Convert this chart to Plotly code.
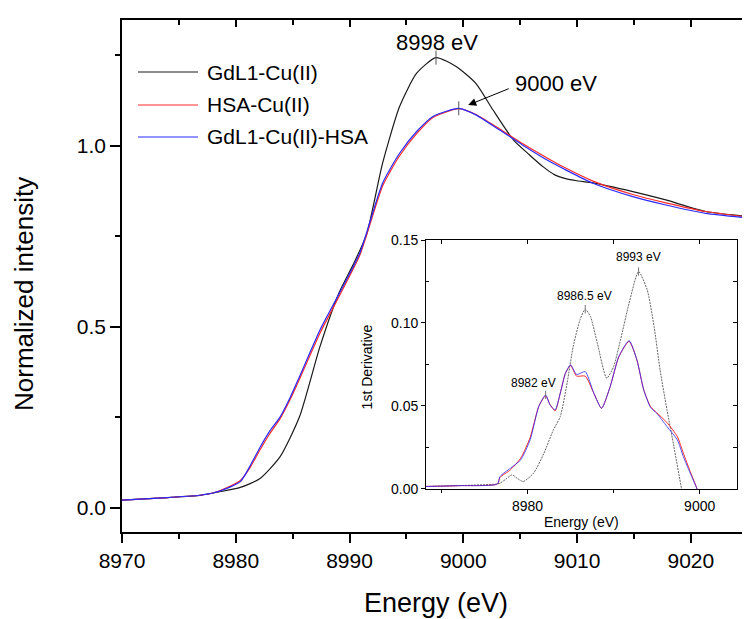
import plotly.graph_objects as go

# ---------------- data ----------------
series_names = ["GdL1-Cu(II)", "HSA-Cu(II)", "GdL1-Cu(II)-HSA"]
series_colors = ["#1a1a1a", "#ff2a2a", "#2a2aff"]

# main XANES spectra
energy_black = [8970, 8974, 8977, 8978.6, 8980.4, 8982.1, 8983.9, 8985.6, 8987.4, 8989.1,
                8990.3, 8991.5, 8992.9, 8994.4, 8995.9, 8997.6, 8999.4, 9001.1, 9002.6, 9004.4,
                9005.8, 9007.0, 9008.0, 9009.0, 9010.0, 9011.4, 9014.9, 9017.8, 9021.3, 9025.2]
norm_black = [0.021, 0.028, 0.035, 0.044, 0.056, 0.080, 0.141, 0.251, 0.445, 0.595,
              0.670, 0.755, 0.951, 1.108, 1.200, 1.243, 1.218, 1.172, 1.099, 1.016,
              0.975, 0.942, 0.920, 0.909, 0.903, 0.897, 0.873, 0.850, 0.818, 0.804]

energy_hsa = [8970, 8974, 8977, 8978.6, 8980.4, 8981.2, 8982.1, 8983.0, 8983.9, 8984.8,
              8985.6, 8987.4, 8989.1, 8990.9, 8992.9, 8994.4, 8995.9, 8997.3, 8999.6, 9001.1,
              9003.2, 9005.2, 9007.6, 9009.0, 9011.4, 9014.9, 9017.8, 9021.3, 9025.2]
norm_red = [0.021, 0.028, 0.035, 0.047, 0.075, 0.108, 0.158, 0.205, 0.246, 0.300,
            0.355, 0.482, 0.585, 0.697, 0.888, 0.972, 1.033, 1.077, 1.102, 1.086,
            1.046, 1.006, 0.962, 0.938, 0.902, 0.865, 0.842, 0.818, 0.802]
norm_blue = [0.021, 0.028, 0.035, 0.046, 0.072, 0.112, 0.165, 0.212, 0.251, 0.306,
             0.362, 0.491, 0.592, 0.703, 0.896, 0.979, 1.039, 1.080, 1.103, 1.085,
             1.043, 1.002, 0.956, 0.933, 0.896, 0.859, 0.836, 0.813, 0.800]

# inset: first derivative
d_energy_black = [8968.2, 8972, 8976.4, 8976.8, 8977.5, 8978.2, 8978.9, 8979.5, 8980.7, 8981.9,
                  8983.0, 8983.8, 8984.6, 8985.3, 8986.1, 8986.7, 8987.3, 8988.1, 8989.2, 8990.0,
                  8990.8, 8991.8, 8992.9, 8993.9, 8994.7, 8995.4, 8996.2, 8997.0, 8997.9, 8998.4]
deriv_black = [0.0015, 0.002, 0.003, 0.0035, 0.006, 0.0085, 0.006, 0.0045, 0.0095, 0.0215,
               0.0356, 0.0436, 0.064, 0.0858, 0.102, 0.1083, 0.104, 0.088, 0.0667, 0.0738,
               0.0898, 0.112, 0.131, 0.120, 0.0979, 0.0717, 0.0477, 0.0256, 0.0, -0.012]

d_energy_hsa = [8968.2, 8972, 8976.5, 8976.8, 8978.0, 8979.2, 8980.3, 8981.3, 8982.1, 8982.6,
                8983.2, 8983.8, 8984.4, 8985.0, 8985.7, 8986.7, 8987.7, 8988.6, 8989.6, 8990.6,
                8991.8, 8992.7, 8993.5, 8994.3, 8995.0, 8996.2, 8997.4, 8998.1, 8998.9, 8999.7, 9000.2]
deriv_red = [0.0015, 0.002, 0.003, 0.007, 0.0115, 0.0185, 0.031, 0.0497, 0.0562, 0.051,
             0.047, 0.0577, 0.0697, 0.0745, 0.068, 0.068, 0.0577, 0.0486, 0.0617, 0.0795,
             0.089, 0.0778, 0.0597, 0.0495, 0.046, 0.040, 0.0316, 0.0216, 0.0105, 0.0, -0.008]
deriv_blue = [0.0015, 0.002, 0.003, 0.0075, 0.0125, 0.0175, 0.0296, 0.0497, 0.0567, 0.0507,
              0.0476, 0.0577, 0.0697, 0.0748, 0.069, 0.0707, 0.0577, 0.0486, 0.0617, 0.0798,
              0.0894, 0.0778, 0.0597, 0.049, 0.0456, 0.0376, 0.0296, 0.0195, 0.0095, 0.0, -0.008]

# peak labels
main_peaks_x = [8997.6, 8999.6]
main_peaks_y = [1.243, 1.103]
inset_peaks_x = [8982.1, 8986.7, 8992.9]
inset_peaks_y = [0.0567, 0.1083, 0.131]
inset_peak_labels = ["8982 eV", "8986.5 eV", "8993 eV"]

x_ticks = [8970, 8980, 8990, 9000, 9010, 9020]
x_minor = [8975, 8985, 8995, 9005, 9015, 9025]
y_ticks = [0.0, 0.5, 1.0]
y_ticklabels = ["0.0", "0.5", "1.0"]
y_minor = [0.25, 0.75, 1.25]
ix_ticks = [8980, 9000]
ix_minor = [8970, 8990]
iy_ticks = [0.0, 0.05, 0.10, 0.15]
iy_ticklabels = ["0.00", "0.05", "0.10", "0.15"]
iy_minor = [0.025, 0.075, 0.125]

FONT = "Arial, Liberation Sans, sans-serif"

fig = go.Figure()

# main curves
fig.add_trace(go.Scatter(x=energy_black, y=norm_black, mode="lines", line=dict(color=series_colors[0], width=1.2, shape="spline", smoothing=0.6), showlegend=False))
fig.add_trace(go.Scatter(x=energy_hsa, y=norm_red, mode="lines", line=dict(color=series_colors[1], width=1.2, shape="spline", smoothing=0.6), showlegend=False))
fig.add_trace(go.Scatter(x=energy_hsa, y=norm_blue, mode="lines", line=dict(color=series_colors[2], width=1.2, shape="spline", smoothing=0.6), showlegend=False))
fig.add_trace(go.Scatter(x=main_peaks_x, y=main_peaks_y, mode="markers",
                         marker=dict(symbol="line-ns", size=10, line=dict(color="#555", width=1)), showlegend=False))

# invisible trace to hold mirrored axes
fig.add_trace(go.Scatter(x=[8970], y=[0], xaxis="x2", yaxis="y2", mode="markers", marker=dict(opacity=0), showlegend=False, hoverinfo="skip"))

# inset curves
fig.add_trace(go.Scatter(x=d_energy_black, y=deriv_black, xaxis="x3", yaxis="y3", mode="lines",
                         line=dict(color="#666", width=1, dash="2px,1px", shape="spline", smoothing=0.6), showlegend=False))
fig.add_trace(go.Scatter(x=d_energy_hsa, y=deriv_red, xaxis="x3", yaxis="y3", mode="lines",
                         line=dict(color=series_colors[1], width=1, shape="spline", smoothing=0.6), showlegend=False))
fig.add_trace(go.Scatter(x=d_energy_hsa, y=deriv_blue, xaxis="x3", yaxis="y3", mode="lines",
                         line=dict(color=series_colors[2], width=1, shape="spline", smoothing=0.6), opacity=0.8, showlegend=False))
fig.add_trace(go.Scatter(x=inset_peaks_x, y=inset_peaks_y, xaxis="x3", yaxis="y3", mode="markers",
                         marker=dict(symbol="line-ns", size=6, line=dict(color="#777", width=1)), showlegend=False))
fig.add_trace(go.Scatter(x=[8980], y=[0], xaxis="x4", yaxis="y4", mode="markers", marker=dict(opacity=0), showlegend=False, hoverinfo="skip"))

axis_common = dict(showgrid=False, zeroline=False, showline=True, linecolor="black", tickcolor="black")

# page body has an 8px margin, so the figure is 8px smaller than the window
fig.update_layout(
    width=742, height=611,
    margin=dict(l=114, r=0, t=12, b=87),
    paper_bgcolor="white", plot_bgcolor="white",
    font=dict(family=FONT, color="black"),
    showlegend=False,
    xaxis=dict(**axis_common, domain=[0, 1], range=[8970, 9025.2], linewidth=1.5,
               tickmode="array", tickvals=x_ticks, ticktext=[str(v) for v in x_ticks],
               ticks="outside", ticklen=9, tickwidth=1.5, tickfont=dict(size=21),
               minor=dict(tickmode="array", tickvals=x_minor, ticks="outside", ticklen=5, tickwidth=1.5, tickcolor="black"),
               anchor="y"),
    xaxis2=dict(**axis_common, overlaying="x", side="top", anchor="y2", range=[8970, 9025.2], linewidth=1.5,
                tickmode="array", tickvals=x_ticks, showticklabels=False,
                ticks="inside", ticklen=7, tickwidth=1.5,
                minor=dict(tickmode="array", tickvals=x_minor, ticks="inside", ticklen=5, tickwidth=1.5, tickcolor="black")),
    yaxis=dict(**axis_common, domain=[0, 1], range=[-0.0671, 1.347], linewidth=1.5,
               tickmode="array", tickvals=y_ticks, ticktext=y_ticklabels,
               ticks="outside", ticklen=10, tickwidth=1.5, tickfont=dict(size=21),
               minor=dict(tickmode="array", tickvals=y_minor, ticks="outside", ticklen=5, tickwidth=1.5, tickcolor="black"),
               anchor="x"),
    yaxis2=dict(**axis_common, overlaying="y", side="right", anchor="x2", range=[-0.0671, 1.347], linewidth=1.5,
                tickmode="array", tickvals=y_ticks, showticklabels=False,
                ticks="inside", ticklen=7, tickwidth=1.5,
                minor=dict(tickmode="array", tickvals=y_minor, ticks="inside", ticklen=5, tickwidth=1.5, tickcolor="black")),
    xaxis3=dict(**axis_common, domain=[0.4841, 0.9788], anchor="y3", range=[8968.2, 9004.3], linewidth=1,
                tickmode="array", tickvals=ix_ticks, ticktext=[str(v) for v in ix_ticks],
                ticks="outside", ticklen=4, tickwidth=1, tickfont=dict(size=14),
                minor=dict(tickmode="array", tickvals=ix_minor, ticks="outside", ticklen=3, tickwidth=1, tickcolor="black")),
    xaxis4=dict(**axis_common, overlaying="x3", side="top", anchor="y4", range=[8968.2, 9004.3], linewidth=1,
                tickmode="array", tickvals=ix_ticks + ix_minor, showticklabels=False,
                ticks="inside", ticklen=4, tickwidth=1),
    yaxis3=dict(**axis_common, domain=[0.0834, 0.5703], anchor="x3", range=[-0.0002, 0.15], linewidth=1,
                tickmode="array", tickvals=iy_ticks, ticktext=iy_ticklabels,
                ticks="outside", ticklen=4, tickwidth=1, tickfont=dict(size=14),
                minor=dict(tickmode="array", tickvals=iy_minor, ticks="inside", ticklen=3, tickwidth=1, tickcolor="black")),
    yaxis4=dict(**axis_common, overlaying="y3", side="right", anchor="x4", range=[-0.0002, 0.15], linewidth=1,
                tickmode="array", tickvals=iy_ticks + iy_minor, showticklabels=False,
                ticks="inside", ticklen=4, tickwidth=1),
)

annotations = [
    # axis titles
    dict(text="Energy (eV)", xref="paper", yref="paper", x=0.5, y=-0.1387, xanchor="center", yanchor="middle",
         showarrow=False, font=dict(size=27)),
    dict(text="Normalized intensity", xref="paper", yref="paper", x=-0.156, y=0.465, xanchor="center", yanchor="middle",
         textangle=-90, showarrow=False, font=dict(size=26)),
    dict(text="Energy (eV)", xref="paper", yref="paper", x=0.732, y=0.0201, xanchor="center", yanchor="middle",
         showarrow=False, font=dict(size=14)),
    dict(text="1st Derivative", xref="paper", yref="paper", x=0.3897, y=0.3229, xanchor="center", yanchor="middle",
         textangle=-90, showarrow=False, font=dict(size=14)),
    # main peak labels
    dict(text="8998 eV", xref="x", yref="y", x=8997.7, y=1.2837, xanchor="center", yanchor="middle",
         showarrow=False, font=dict(size=22)),
    dict(text="9000 eV", xref="x", yref="y", x=9004.38, y=1.173, xanchor="left", yanchor="middle",
         showarrow=False, font=dict(size=22)),
    dict(text="", xref="x", yref="y", x=9000.43, y=1.112, ax=42, ay=-17, showarrow=True,
         arrowhead=2, arrowsize=1.6, arrowwidth=1, arrowcolor="black", standoff=0),
]
inset_label_pos = [(8980.7, 0.0637), (8986.6, 0.1163), (8992.9, 0.1396)]
for lab, (lx, ly) in zip(inset_peak_labels, inset_label_pos):
    annotations.append(dict(text=lab, xref="x3", yref="y3", x=lx, y=ly, xanchor="center", yanchor="middle",
                            showarrow=False, font=dict(size=12)))

# legend (manual)
legend_y = [0.8984, 0.834, 0.7715]
shapes = []
for name, col, ly in zip(series_names, series_colors, legend_y):
    shapes.append(dict(type="line", xref="paper", yref="paper", x0=0.0255, x1=0.121, y0=ly, y1=ly,
                       line=dict(color=col, width=1.2)))
    annotations.append(dict(text=name, xref="paper", yref="paper", x=0.1322, y=ly, xanchor="left", yanchor="middle",
                            showarrow=False, font=dict(size=21)))

fig.update_layout(annotations=annotations, shapes=shapes)

fig.write_html("out.html")
